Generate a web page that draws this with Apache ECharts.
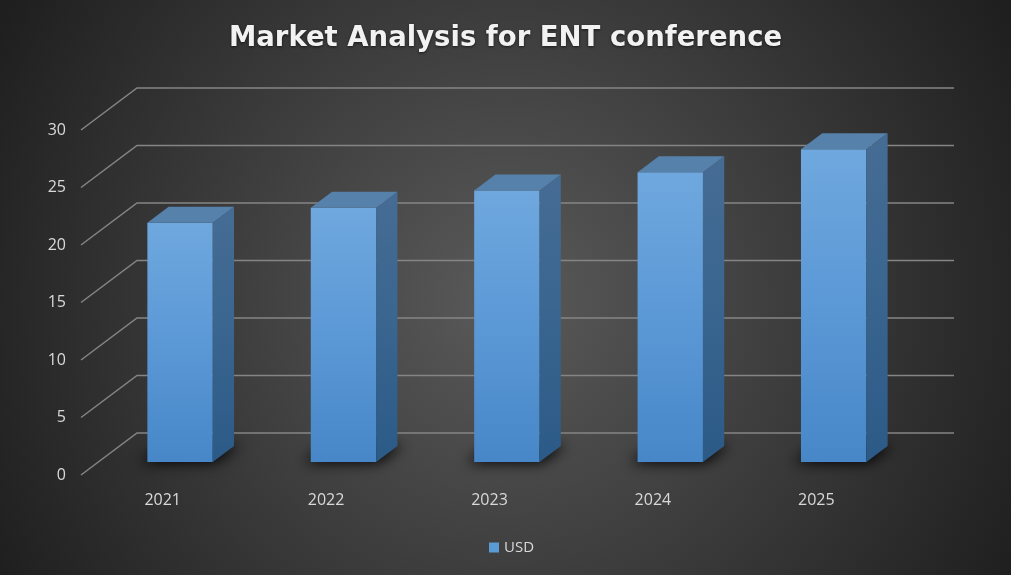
<!doctype html>
<html lang="en">

<head>
	<meta charset="UTF-8">
	<title>Market Analysis for ENT conference</title>
	<script src="https://cdn.jsdelivr.net/npm/echarts@6/dist/echarts.min.js"></script>
	<style>
		html, body { margin: 0; padding: 0; }
		#chart { width: 1011px; height: 575px; }
	</style>
</head>

<body>
	<div id="chart"></div>

	<script>
		// data
		var years = ['2021', '2022', '2023', '2024', '2025'];
		var usd = [20.8, 22.1, 23.6, 25.2, 27.2];
		var ticks = [0, 5, 10, 15, 20, 25, 30];

		// fake 3d: depth vector of the floor, bar sits between these depth fractions
		var DX = 56, DY = -42;
		var F = 0.31, B = 0.69;
		var FAR = 3000; // shadow shape is drawn off screen, only its blur is shifted back

		function renderGrid(params, api) {
			var cs = params.coordSys;
			var y = api.coord([0, api.value(1)])[1];
			var x0 = cs.x, x1 = cs.x + cs.width;
			return {
				type: 'polyline',
				shape: { points: [[x0, y], [x0 + DX, y + DY], [x1 + DX, y + DY]] },
				style: { stroke: '#858585', lineWidth: 1.5, fill: null },
				silent: true
			};
		}

		function renderBar(params, api) {
			var c = api.coord([api.value(0), 0]);
			var t = api.coord([api.value(0), api.value(1)]);
			var bw = api.size([1, 0])[0] * 0.4;
			var ox = DX * F, oy = DY * F;
			var bx = DX * (B - F), by = DY * (B - F);
			var left = c[0] - bw / 2 + ox, right = c[0] + bw / 2 + ox;
			var bottom = c[1] + oy, top = t[1] + oy;
			return {
				type: 'group',
				children: [
					{
						type: 'polygon',
						shape: {
							points: [[left - 8 + FAR, bottom + 1], [right + 2 + FAR, bottom + 1],
								[right + bx + 6 + FAR, bottom + by - 1], [left + bx - 4 + FAR, bottom + by - 1]]
						},
						style: { fill: '#000', shadowBlur: 14, shadowColor: 'rgba(0,0,0,0.95)', shadowOffsetX: -FAR }
					},
					{
						type: 'rect',
						shape: { x: left, y: top, width: right - left, height: bottom - top },
						style: {
							fill: new echarts.graphic.LinearGradient(0, 0, 0, 1, [
								{ offset: 0, color: '#6fa8de' },
								{ offset: 0.5, color: '#5b98d6' },
								{ offset: 1, color: '#4787c8' }
							])
						}
					},
					{
						type: 'polygon',
						shape: { points: [[right, bottom], [right, top], [right + bx, top + by], [right + bx, bottom + by]] },
						style: {
							fill: new echarts.graphic.LinearGradient(0, 0, 0, 1, [
								{ offset: 0, color: '#466c94' },
								{ offset: 0.45, color: '#3a6690' },
								{ offset: 1, color: '#2c5a87' }
							])
						}
					},
					{
						type: 'polygon',
						shape: { points: [[left, top], [right, top], [right + bx, top + by], [left + bx, top + by]] },
						style: { fill: '#5681ab' }
					}
				]
			};
		}

		var chart = echarts.init(document.getElementById('chart'));

		var option = {
			backgroundColor: {
				type: 'radial', x: 0.5, y: 0.52, r: 1,
				colorStops: [
					{ offset: 0, color: '#5a5a5a' },
					{ offset: 1, color: '#1f1f1f' }
				]
			},
			title: {
				text: 'Market Analysis for ENT conference',
				left: 'center',
				top: 20,
				textStyle: {
					color: '#f2f2f2',
					fontFamily: 'DejaVu Sans',
					fontWeight: 'bold',
					fontSize: 27.5,
					textShadowColor: 'rgba(0,0,0,0.6)',
					textShadowBlur: 3,
					textShadowOffsetY: 1
				}
			},
			legend: {
				data: ['USD'],
				left: 484,
				top: 535,
				icon: 'rect',
				itemWidth: 10,
				itemHeight: 10,
				itemGap: 5,
				textStyle: { color: '#d9d9d9', fontFamily: 'Open Sans', fontSize: 15 }
			},
			grid: { left: 81, right: 113, top: 130, bottom: 100 },
			xAxis: {
				type: 'category',
				data: years,
				axisLine: { show: false },
				axisTick: { show: false },
				axisLabel: { color: '#d9d9d9', fontFamily: 'Open Sans', fontSize: 16, margin: 17 }
			},
			yAxis: {
				type: 'value',
				min: 0,
				max: 30,
				interval: 5,
				splitLine: { show: false },
				axisLine: { show: false },
				axisTick: { show: false },
				axisLabel: { color: '#d9d9d9', fontFamily: 'Open Sans', fontSize: 16, margin: 15 }
			},
			series: [
				{
					type: 'custom',
					name: 'grid',
					silent: true,
					clip: false,
					z: 1,
					renderItem: renderGrid,
					data: ticks.map(function (v) { return [0, v]; })
				},
				{
					type: 'custom',
					name: 'USD',
					clip: false,
					z: 2,
					itemStyle: { color: '#5b9bd5' },
					renderItem: renderBar,
					data: years.map(function (y, i) { return [i, usd[i]]; })
				}
			]
		};
		chart.setOption(option);
	</script>
</body>

</html>
